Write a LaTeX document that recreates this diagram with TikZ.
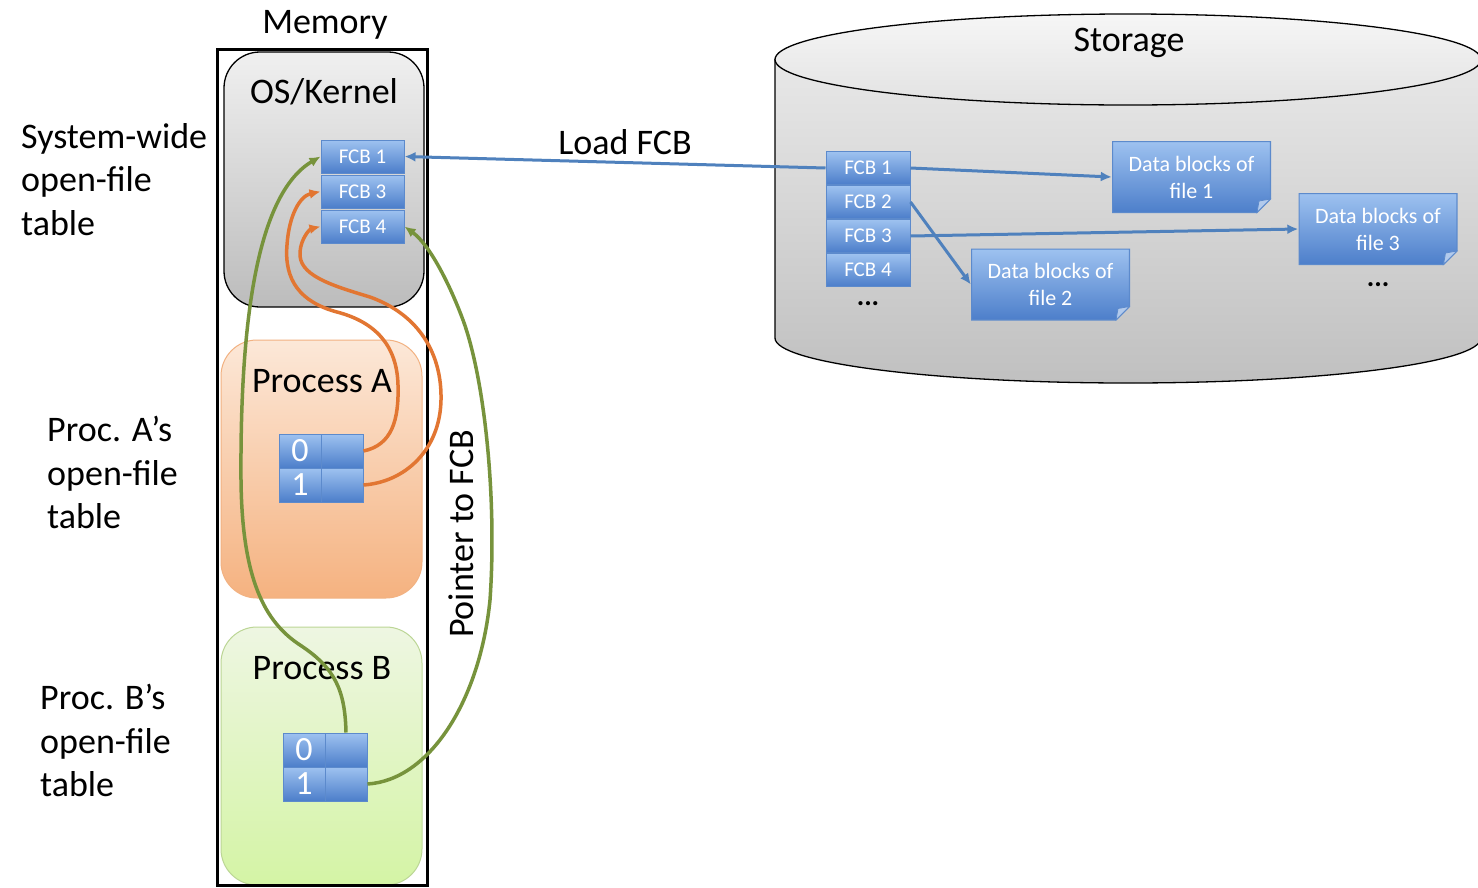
\documentclass[tikz,border=0pt]{standalone}
\usepackage{fontspec}
\setmainfont{Carlito}
\usetikzlibrary{arrows.meta}

\definecolor{fcbtop}{RGB}{158,194,240}
\definecolor{fcbbot}{RGB}{76,126,202}
\definecolor{fcbline}{RGB}{92,138,204}
\definecolor{foldblue}{RGB}{178,202,236}
\definecolor{linkblue}{RGB}{79,129,189}
\definecolor{linkorange}{RGB}{226,118,50}
\definecolor{linkgreen}{RGB}{119,147,60}
\definecolor{ostop}{RGB}{240,240,240}
\definecolor{osbot}{RGB}{188,188,188}
\definecolor{atop}{RGB}{252,232,216}
\definecolor{abot}{RGB}{245,178,128}
\definecolor{aline}{RGB}{242,178,130}
\definecolor{btop}{RGB}{238,246,226}
\definecolor{bbot}{RGB}{212,244,165}
\definecolor{bline}{RGB}{188,214,150}
\definecolor{cyltop}{RGB}{232,232,232}
\definecolor{cylbot}{RGB}{192,192,192}
\definecolor{captop}{RGB}{246,246,246}
\definecolor{capbot}{RGB}{226,226,226}

\tikzset{
  lbl/.style={font=\fontsize{36}{43.5}\selectfont, inner sep=0pt, align=left},
  fcbbox/.style={draw=fcbline, line width=1pt, top color=fcbtop, bottom color=fcbbot,
    text=white, font=\fontsize{21}{25}\selectfont, minimum width=83pt,
    minimum height=33pt, inner sep=0pt},
  cellbox/.style={draw=fcbline, line width=1pt, top color=fcbtop, bottom color=fcbbot,
    text=white, font=\fontsize{34}{36}\selectfont, minimum width=42pt,
    minimum height=34pt, inner sep=0pt},
  area/.style={rounded corners=36pt, minimum width=201pt, minimum height=258pt, inner sep=0pt},
  datablk/.style={minimum width=159pt, minimum height=72pt, inner sep=0pt, text=white,
    align=center, font=\fontsize{22}{27}\selectfont,
    path picture={
      \shadedraw[top color=fcbtop, bottom color=fcbbot, draw=fcbline, line width=1.2pt]
        ([xshift=0.6pt,yshift=-0.6pt]path picture bounding box.north west) --
        ([xshift=-0.6pt,yshift=-0.6pt]path picture bounding box.north east) --
        ([xshift=-0.6pt,yshift=14pt]path picture bounding box.south east) --
        ([xshift=-14pt,yshift=0.6pt]path picture bounding box.south east) --
        ([xshift=0.6pt,yshift=0.6pt]path picture bounding box.south west) -- cycle;
      \filldraw[fill=foldblue, draw=fcbline, line width=0.8pt]
        ([xshift=-0.6pt,yshift=14pt]path picture bounding box.south east) --
        ([xshift=-14pt,yshift=0.6pt]path picture bounding box.south east) --
        ([xshift=-12pt,yshift=12pt]path picture bounding box.south east) -- cycle;
    }},
  link/.style={line width=3pt, -{Latex[length=11pt,width=10pt]}},
  dots/.style={font=\fontsize{28}{30}\selectfont\bfseries, inner sep=0pt}
}

\begin{document}
\begin{tikzpicture}[x=1pt,y=-1pt]
\useasboundingbox (0,0) rectangle (1478,887);
\clip (0,0) rectangle (1478,887);
\fill[white] (0,0) rectangle (1478,887);

% ---------- storage cylinder ----------
\shadedraw[top color=cyltop, bottom color=cylbot, draw=black, line width=1.3pt]
  (775,59.5) -- (775,338) arc[start angle=180, end angle=0, x radius=353, y radius=45]
  -- (1481,59.5) -- cycle;
\shadedraw[top color=captop, bottom color=capbot, draw=black, line width=1.3pt]
  (1128,59.5) ellipse [x radius=353, y radius=45.5];
\node[lbl, anchor=base] (storage) at (1129,51) {Storage};

% FCBs on disk
\node[fcbbox, minimum width=84pt] (s1) at (868,168) {FCB 1};
\node[fcbbox, minimum width=84pt] (s2) at (868,202) {FCB 2};
\node[fcbbox, minimum width=84pt] (s3) at (868,236) {FCB 3};
\node[fcbbox, minimum width=84pt] (s4) at (868,270) {FCB 4};
\node[dots] (sdots) at (868,304) {...};

% data blocks
\node[datablk] (d1) at (1191.5,177) {Data blocks of\\file 1};
\node[datablk] (d2) at (1050.5,284.5) {Data blocks of\\file 2};
\node[datablk] (d3) at (1378,229) {Data blocks of\\file 3};
\node[dots] (ddots) at (1378,285) {...};

% ---------- memory ----------
\node[anchor=base, font=\fontsize{36}{43}\selectfont, inner sep=0pt] (memlbl) at (325,33) {Memory};

\node[area, draw=aline, line width=1pt, top color=atop, bottom color=abot] (procA) at (321.5,469) {};
\node[area, draw=bline, line width=1pt, top color=btop, bottom color=bbot] (procB) at (321.5,756) {};
\node[area, minimum width=200pt, minimum height=255pt, draw=black, line width=1.3pt,
  top color=ostop, bottom color=osbot] (os) at (324,179.5) {};

\node[draw=black, line width=3pt, minimum width=210pt, minimum height=836pt, inner sep=0pt] (mem) at (322,467) {};

\node[lbl, anchor=base] (oslbl) at (324,103) {OS/Kernel};
\node[lbl, anchor=base] (albl) at (322,392) {Process A};
\node[lbl, anchor=base] (blbl) at (322,679) {Process B};

% system-wide open-file table
\node[fcbbox] (k1) at (362.5,156.5) {FCB 1};
\node[fcbbox] (k3) at (362.5,191.5) {FCB 3};
\node[fcbbox] (k4) at (362.5,226.5) {FCB 4};

% per-process open-file tables
\node[cellbox] (a0i) at (300,451) {0};
\node[cellbox] (a0v) at (342,451) {};
\node[cellbox] (a1i) at (300,485) {1};
\node[cellbox] (a1v) at (342,485) {};
\node[cellbox] (b0i) at (304,750) {0};
\node[cellbox] (b0v) at (346,750) {};
\node[cellbox] (b1i) at (304,784) {1};
\node[cellbox] (b1v) at (346,784) {};

% side labels
\node[lbl, anchor=north west] (syslbl) at (21,123) {System-wide\\open-file\\table};
\node[lbl, anchor=north west] (atbl) at (47,416) {Proc. A’s\\open-file\\table};
\node[lbl, anchor=north west] (btbl) at (40,684) {Proc. B’s\\open-file\\table};
\node[lbl, anchor=base] (loadlbl) at (625,154) {Load FCB};
\node[lbl, anchor=base, rotate=90] (ptrlbl) at (473,534) {Pointer to FCB};

% ---------- connectors ----------
\draw[link, linkblue] (s1.west) -- (k1.east);
\draw[link, linkblue] (s1.east) -- (d1.west);
\draw[link, linkblue] (s2.east) -- (d2.west);
\draw[link, linkblue] (s3.east) -- (d3.west);

\draw[link, linkorange, line width=3.5pt] (a0v.east)
  .. controls (392,445) and (399,420) .. (398,385)
  .. controls (397,345) and (375,322) .. (337,312)
  .. controls (300,302) and (284,280) .. (287,245)
  .. controls (289,215) and (300,196) .. (k3.west);
\draw[link, linkorange, line width=3.5pt] (a1v.east)
  .. controls (405,482) and (440,450) .. (441,400)
  .. controls (442,355) and (420,315) .. (370,297)
  .. controls (330,285) and (298,275) .. (300,252)
  .. controls (301,238) and (310,229) .. (k4.west);

\draw[link, linkgreen, line width=3.5pt] (b0v.north)
  .. controls (345,690) and (335,668) .. (300,645)
  .. controls (265,622) and (242,580) .. (241,480)
  .. controls (240,330) and (255,195) .. (k1.west);
\draw[link, linkgreen, line width=3.5pt] (b1v.east)
  .. controls (430,780) and (480,700) .. (490,600)
  .. controls (497,500) and (485,380) .. (463,320)
  .. controls (450,285) and (430,245) .. (k4.east);
\end{tikzpicture}
\end{document}
